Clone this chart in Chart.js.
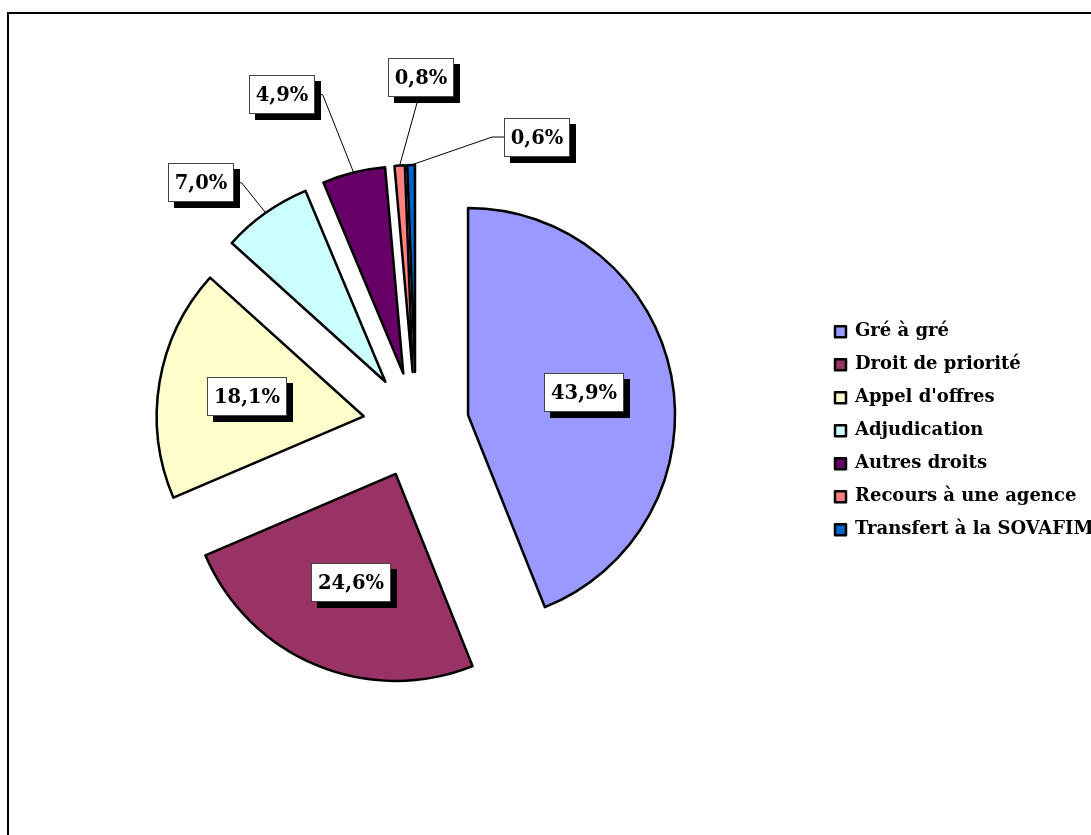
<!DOCTYPE html>
<html>
<head>
<meta charset="utf-8">
<title>Modes de cession</title>
<script src="https://cdn.jsdelivr.net/npm/chart.js@4.4.1/dist/chart.umd.min.js"></script>
<style>
    html, body { margin: 0; padding: 0; background: #fff; overflow: hidden; }
    #frame {
        position: absolute; left: 7px; top: 12px;
        width: 1200px; height: 900px;
        border: 2.5px solid #000; box-sizing: border-box;
    }
    #wrap { position: absolute; left: 0; top: 0; width: 1091px; height: 835px; }
</style>
</head>
<body>
<div id="frame"></div>
<div id="wrap"><canvas id="chart" width="1091" height="835"></canvas></div>
<script>
// Data
const categories = [
    "Gré à gré",
    "Droit de priorité",
    "Appel d'offres",
    "Adjudication",
    "Autres droits",
    "Recours à une agence",
    "Transfert à la SOVAFIM"
];
const shares = [43.9, 24.6, 18.1, 7.0, 4.9, 0.8, 0.6];
const sliceColors = ["#9999FF", "#993366", "#FFFFCC", "#CCFFFF", "#660066", "#FF8080", "#0066CC"];

// Label placement (styling, not data)
const labelInside = [true, true, true, false, false, false, false];
const labelNudge = [null, null, null, [-65, -30], [-72, -78], [21, -88], [126, -28]];

const PIE_RADIUS = 207;
const EXPLODE = 53;            // px each slice is pulled out of the centre
const SERIF = '"DejaVu Serif", "Liberation Serif", serif';

// Excel-style explosion: move every arc out along its mid angle by the same distance
// (Chart.js "offset" also shrinks the arcs, so the arcs are moved here instead)
const explodeSlices = {
    id: 'explodeSlices',
    beforeDatasetsDraw(chart) {
        const {left, right, top, bottom} = chart.chartArea;
        const ox = (left + right) / 2, oy = (top + bottom) / 2;
        chart.getDatasetMeta(0).data.forEach(arc => {
            const mid = (arc.startAngle + arc.endAngle) / 2;
            arc.x = ox + Math.cos(mid) * EXPLODE;
            arc.y = oy + Math.sin(mid) * EXPLODE;
        });
    }
};

// Boxed percentage labels with shadow, like the Excel original
const boxLabels = {
    id: 'boxLabels',
    afterDatasetsDraw(chart) {
        const ctx = chart.ctx;
        const meta = chart.getDatasetMeta(0);
        ctx.save();
        ctx.font = 'bold 19.5px ' + SERIF;
        ctx.textAlign = 'center';
        ctx.textBaseline = 'middle';
        meta.data.forEach((arc, i) => {
            const {x, y, startAngle, endAngle, outerRadius} = arc;
            const mid = (startAngle + endAngle) / 2;
            const cos = Math.cos(mid), sin = Math.sin(mid);
            const text = shares[i].toFixed(1).replace('.', ',') + '%';
            const w = Math.round(ctx.measureText(text).width + 14);
            const h = 39;
            let lx, ly;
            if (labelInside[i]) {
                lx = x + cos * outerRadius * 0.57;
                ly = y + sin * outerRadius * 0.57;
            } else {
                const ex = x + cos * outerRadius, ey = y + sin * outerRadius;
                lx = ex + labelNudge[i][0];
                ly = ey + labelNudge[i][1];
                ctx.beginPath();
                ctx.strokeStyle = '#000';
                ctx.lineWidth = 1;
                if (Math.abs(lx - ex) < w / 2) {
                    ctx.moveTo(lx - 2, ly + h / 2);
                } else if (lx < ex) {
                    ctx.moveTo(lx + w / 2, ly);
                    ctx.lineTo(lx + w / 2 + 8, ly);
                } else {
                    ctx.moveTo(lx - w / 2, ly);
                    ctx.lineTo(lx - w / 2 - 12, ly);
                }
                ctx.lineTo(ex, ey);
                ctx.stroke();
            }
            const bx = Math.round(lx - w / 2), by = Math.round(ly - h / 2);
            ctx.fillStyle = '#000';
            ctx.fillRect(bx + 6, by + 6, w, h);
            ctx.fillStyle = '#fff';
            ctx.fillRect(bx, by, w, h);
            ctx.strokeStyle = '#444';
            ctx.lineWidth = 1;
            ctx.strokeRect(bx + 0.5, by + 0.5, w - 1, h - 1);
            ctx.fillStyle = '#000';
            ctx.fillText(text, bx + w / 2, by + h / 2 + 1);
        });
        ctx.restore();
    }
};

const chart = new Chart(document.getElementById('chart'), {
    type: 'pie',
    data: {
        labels: categories,
        datasets: [{
            data: shares,
            backgroundColor: sliceColors,
            borderColor: '#000',
            borderWidth: 2.5,
            borderJoinStyle: 'round',
            radius: PIE_RADIUS
        }]
    },
    options: {
        responsive: false,
        animation: false,
        events: [],
        layout: { padding: { left: 12, top: 15, right: 0, bottom: 0 } },
        plugins: {
            legend: {
                position: 'right',
                maxWidth: 271,
                // empty title only pushes the items a few px down, as in the original
                title: { display: true, text: ' ', font: { size: 8 }, padding: 1 },
                labels: {
                    color: '#000',
                    font: { family: SERIF, weight: 'bold', size: 18 },
                    boxWidth: 11,
                    boxHeight: 11,
                    padding: 15
                }
            },
            tooltip: { enabled: false }
        }
    },
    plugins: [explodeSlices, boxLabels]
});
</script>
</body>
</html>
